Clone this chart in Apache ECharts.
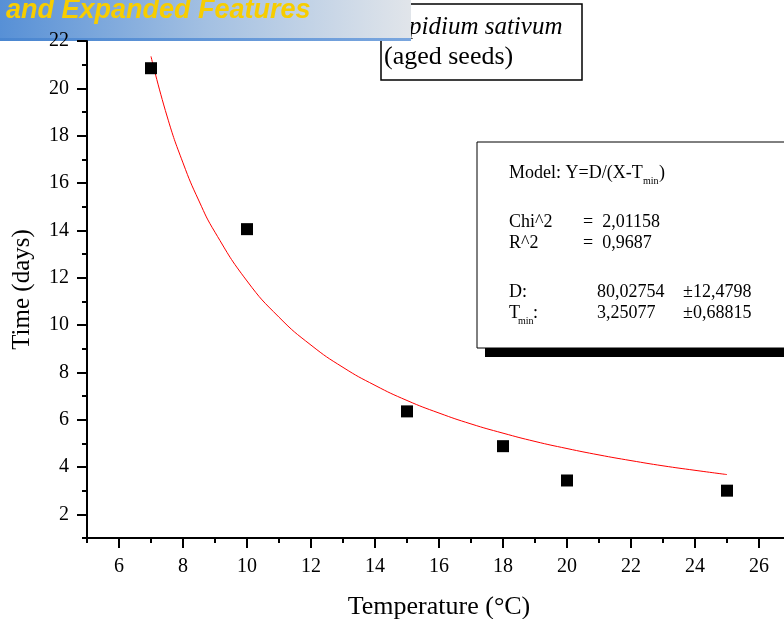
<!DOCTYPE html>
<html>
<head>
<meta charset="utf-8">
<script src="https://cdn.jsdelivr.net/npm/echarts@6/dist/echarts.min.js"></script>
<style>
  html, body { margin: 0; padding: 0; background: #fff; }
  #chart { width: 784px; height: 619px; }
</style>
</head>
<body>
<div id="chart"></div>
<script>
// measured points (temperature, days)
const tempC = [7, 10, 15, 18, 20, 25]
const days = [20.85, 14.05, 6.35, 4.88, 3.43, 3.0]

// red fit curve
const fitX = [7, 7.5, 8, 8.5, 9, 10, 11, 12, 13, 14, 15, 16, 17, 18, 19, 20, 21, 22, 23, 24, 25]
const fitY = [21.35, 18.83, 16.85, 15.24, 13.92, 11.86, 10.33, 9.15, 8.21, 7.45, 6.81, 6.28, 5.82, 5.43, 5.08, 4.78, 4.51, 4.27, 4.05, 3.86, 3.68]

const xTicks = [6, 8, 10, 12, 14, 16, 18, 20, 22, 24, 26]
const yTicks = [2, 4, 6, 8, 10, 12, 14, 16, 18, 20, 22]

const serif = 'Liberation Serif'
const axisStyle = { color: '#000', width: 2 }

let chart = echarts.init(document.getElementById('chart'))

// little helper for the text in the boxes
function txt(x, y, text, size, extra) {
  return { type: 'text', x: x, y: y,
    style: Object.assign({ text: text, fontFamily: serif, fontSize: size || 18, fill: '#000', verticalAlign: 'middle' }, extra || {}) }
}

let option = {
  animation: false,
  backgroundColor: '#fff',
  grid: { left: 87, top: 41, width: 704, height: 497, outerBoundsMode: 'none', containLabel: false },
  xAxis: [
    {
      type: 'value', min: 5, max: 27, position: 'bottom',
      name: 'Temperature (°C)', nameLocation: 'middle', nameGap: 56,
      nameTextStyle: { fontFamily: serif, fontSize: 26, color: '#000' },
      axisLine: { lineStyle: axisStyle },
      axisTick: { customValues: xTicks, length: 10, lineStyle: axisStyle },
      axisLabel: { customValues: xTicks, margin: 19, fontFamily: serif, fontSize: 20, color: '#000' },
      splitLine: { show: false }
    },
    {
      // minor ticks
      type: 'value', min: 5, max: 27, interval: 1, position: 'bottom',
      axisLine: { show: false },
      axisTick: { length: 5, lineStyle: axisStyle },
      axisLabel: { show: false },
      splitLine: { show: false }
    }
  ],
  yAxis: [
    {
      type: 'value', min: 1, max: 22, position: 'left',
      name: 'Time (days)', nameLocation: 'middle', nameGap: 52,
      nameTextStyle: { fontFamily: serif, fontSize: 25, color: '#000' },
      axisLine: { lineStyle: axisStyle },
      axisTick: { customValues: yTicks, length: 10, lineStyle: axisStyle },
      axisLabel: { customValues: yTicks, margin: 18, fontFamily: serif, fontSize: 20, color: '#000' },
      splitLine: { show: false }
    },
    {
      type: 'value', min: 1, max: 22, interval: 1, position: 'left',
      axisLine: { show: false },
      axisTick: { length: 5, lineStyle: axisStyle },
      axisLabel: { show: false },
      splitLine: { show: false }
    }
  ],
  series: [
    {
      type: 'line', xAxisIndex: 0, yAxisIndex: 0,
      data: fitX.map((x, i) => [x, fitY[i]]),
      smooth: true, showSymbol: false,
      lineStyle: { color: '#ff0000', width: 1 },
      z: 2
    },
    {
      type: 'scatter', xAxisIndex: 0, yAxisIndex: 0,
      data: tempC.map((x, i) => [x, days[i]]),
      symbol: 'rect', symbolSize: 12,
      itemStyle: { color: '#000', opacity: 1 },
      z: 3
    }
  ],
  graphic: [
    // legend box top
    {
      type: 'group', z: 50,
      children: [
        { type: 'rect', shape: { x: 381, y: 4, width: 201, height: 76 },
          style: { fill: '#fff', stroke: '#000', lineWidth: 1.5 } },
        txt(384, 27, 'Lepidium sativum', 25, { fontStyle: 'italic' }),
        txt(384, 57, '(aged seeds)', 26)
      ]
    },
    // fit statistics box
    {
      type: 'group', z: 50,
      children: [
        { type: 'rect', shape: { x: 485, y: 150, width: 320, height: 207 },
          style: { fill: '#000' } },
        { type: 'rect', shape: { x: 477, y: 142, width: 320, height: 206 },
          style: { fill: '#fff', stroke: '#000', lineWidth: 1 } },
        txt(509, 173, 'Model: Y=D/(X-T'),
        txt(643, 181, 'min', 10),
        txt(659, 173, ')'),
        txt(509, 222, 'Chi^2'),
        txt(583, 222, '=  2,01158'),
        txt(509, 243, 'R^2'),
        txt(583, 243, '=  0,9687'),
        txt(509, 292, 'D:'),
        txt(597, 292, '80,02754'),
        txt(683, 292, '±12,4798'),
        txt(509, 313, 'T'),
        txt(518, 321, 'min', 10),
        txt(533, 313, ':'),
        txt(597, 313, '3,25077'),
        txt(683, 313, '±0,68815')
      ]
    },
    // slide banner overlapping the top-left corner
    {
      type: 'group', z: 100,
      children: [
        { type: 'rect', shape: { x: 0, y: 0, width: 411, height: 39 },
          style: { fill: new echarts.graphic.LinearGradient(0, 0, 1, 0, [
            { offset: 0, color: '#5790d6' },
            { offset: 0.5, color: '#a3c0e2' },
            { offset: 1, color: '#e1e5ea' }
          ]) } },
        { type: 'rect', shape: { x: 0, y: 38, width: 411, height: 3 },
          style: { fill: new echarts.graphic.LinearGradient(0, 0, 1, 0, [
            { offset: 0, color: '#4a86d0' },
            { offset: 1, color: '#7aa6de' }
          ]) } },
        { type: 'text', x: 6, y: 24,
          style: { text: 'and Expanded Features', fontFamily: 'Liberation Sans', fontWeight: 'bold',
                   fontStyle: 'italic', fontSize: 27, fill: '#f7cd00', verticalAlign: 'bottom' } }
      ]
    }
  ]
}

chart.setOption(option, true)
</script>
</body>
</html>
